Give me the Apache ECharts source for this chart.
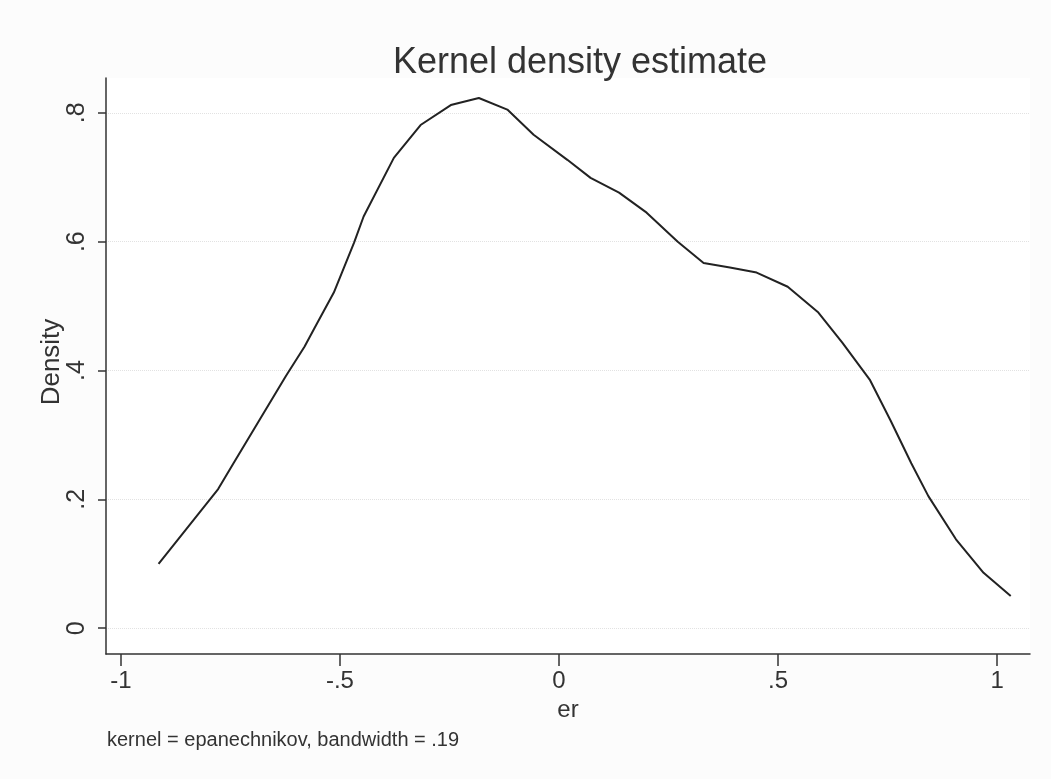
<!DOCTYPE html>
<html>
<head>
<meta charset="utf-8">
<script src="https://cdn.jsdelivr.net/npm/echarts@6/dist/echarts.min.js"></script>
<style>
html,body{margin:0;padding:0;background:#fcfcfc;}
#chart{width:1051px;height:779px;}
</style>
</head>
<body>
<div id="chart"></div>
<script>
// Data (er, density)
var erValues = [-0.914, -0.778, -0.744, -0.683, -0.623, -0.581, -0.558, -0.514, -0.468, -0.446, -0.377, -0.316, -0.247, -0.183, -0.118, -0.058, 0.019, 0.072, 0.137, 0.200, 0.271, 0.330, 0.390, 0.451, 0.522, 0.592, 0.647, 0.710, 0.757, 0.804, 0.843, 0.906, 0.969, 1.031];
var densityValues = [0.100, 0.216, 0.255, 0.324, 0.392, 0.437, 0.466, 0.521, 0.598, 0.639, 0.730, 0.781, 0.812, 0.823, 0.805, 0.766, 0.727, 0.699, 0.676, 0.645, 0.600, 0.567, 0.560, 0.552, 0.530, 0.490, 0.443, 0.385, 0.322, 0.256, 0.205, 0.138, 0.086, 0.050];
var xTicks = [-1, -0.5, 0, 0.5, 1];
var xTickLabels = ['-1', '-.5', '0', '.5', '1'];
var yTicks = [0, 0.2, 0.4, 0.6, 0.8];
var yTickLabels = ['0', '.2', '.4', '.6', '.8'];
var yTitle = 'Density';
var xTitle = 'er';

var seriesData = erValues.map(function (x, i) { return [x, densityValues[i]]; });
function fmt(ticks, labels) {
  return function (v) {
    for (var i = 0; i < ticks.length; i++) if (Math.abs(ticks[i] - v) < 1e-9) return labels[i];
    return '';
  };
}
var chart = echarts.init(document.getElementById('chart'));
var font = 'Liberation Sans, Arial, sans-serif';
chart.setOption({
  backgroundColor: '#fcfcfc',
  animation: false,
  title: {
    text: 'Kernel density estimate',
    left: 575, top: 40, textAlign: 'center',
    textStyle: { fontFamily: font, fontSize: 36, fontWeight: 'normal', color: '#333' }
  },
  graphic: [{
    type: 'text', left: 107, top: 730,
    style: { text: 'kernel = epanechnikov, bandwidth = .19', font: '20px Liberation Sans, Arial, sans-serif', fill: '#333' }
  }, {
    type: 'text', x: 52, y: 362, rotation: Math.PI / 2,
    style: { text: yTitle, font: '26px Liberation Sans, Arial, sans-serif', fill: '#333', align: 'center', verticalAlign: 'middle' }
  }],
  grid: { left: 106, top: 78, right: 21, bottom: 125, show: true, backgroundColor: '#ffffff', borderWidth: 0 },
  xAxis: {
    type: 'value', min: -1.034, max: 1.075,
    name: xTitle, nameLocation: 'middle', nameGap: 44,
    nameTextStyle: { fontFamily: font, fontSize: 24, color: '#333' },
    axisLine: { show: true, onZero: false, lineStyle: { color: '#333', width: 1.5 } },
    axisTick: { show: true, length: 12, customValues: xTicks, lineStyle: { color: '#333', width: 1.5 } },
    axisLabel: { customValues: xTicks, formatter: fmt(xTicks, xTickLabels), margin: 15, fontFamily: font, fontSize: 24, color: '#333' },
    splitLine: { show: false }
  },
  yAxis: {
    type: 'value', min: -0.04, max: 0.854,
    axisLine: { show: true, onZero: false, lineStyle: { color: '#333', width: 1.5 } },
    axisTick: { show: true, length: 8, customValues: yTicks, lineStyle: { color: '#333', width: 1.5 } },
    axisLabel: { customValues: yTicks, formatter: fmt(yTicks, yTickLabels), rotate: 90, margin: 16, fontFamily: font, fontSize: 25, color: '#333' },
    splitLine: { show: true, lineStyle: { color: '#e2e2e2', type: 'dotted', width: 1 } }
  },
  series: [{
    type: 'line', data: seriesData, showSymbol: false, smooth: false,
    lineStyle: { color: '#222', width: 2 }
  }]
});
</script>
</body>
</html>
